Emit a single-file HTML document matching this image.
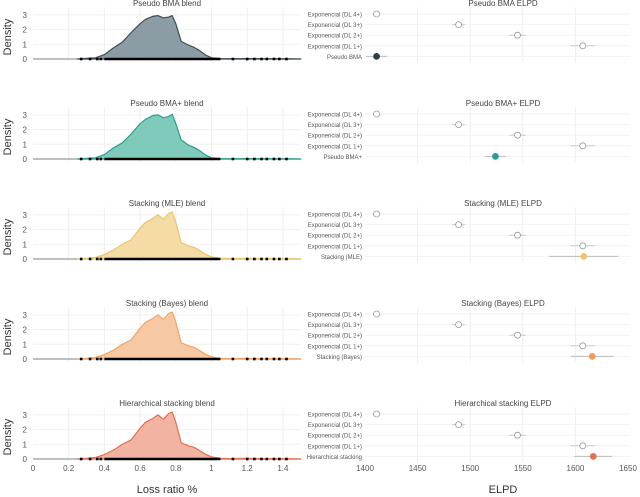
<!DOCTYPE html>
<html><head><meta charset="utf-8"><style>
html,body{margin:0;padding:0;background:#fff}
svg{display:block;font-family:"Liberation Sans","DejaVu Sans",sans-serif}
</style></head><body>
<svg id="chart" width="640" height="497" viewBox="0 0 640 497" xmlns="http://www.w3.org/2000/svg"></svg>
<script>
const panelTitles = ["Pseudo BMA", "Pseudo BMA+", "Stacking (MLE)", "Stacking (Bayes)", "Hierarchical stacking"];
const densityX = [0.25,0.3,0.35,0.4,0.45,0.5,0.55,0.6,0.63,0.67,0.7,0.73,0.76,0.78,0.8,0.83,0.87,0.9,0.93,0.97,1.0,1.05,1.1,1.2,1.3,1.4,1.5];
const densitySmooth = [0,0.04,0.08,0.3,0.75,1.15,1.8,2.4,2.7,2.9,2.95,2.8,2.85,2.95,2.4,1.2,0.95,0.8,0.6,0.25,0.08,0.03,0.02,0.03,0.02,0.02,0];
const densityBMAplus = [0,0.04,0.08,0.3,0.75,1.1,1.7,2.4,2.7,2.95,3.0,2.8,2.9,3.05,2.4,1.3,0.95,0.8,0.6,0.25,0.08,0.03,0.02,0.03,0.02,0.02,0];
const densityStack = [0,0.04,0.1,0.3,0.6,1.0,1.3,2.1,2.5,2.75,3.0,2.7,3.1,3.2,2.5,1.1,0.9,0.8,0.6,0.3,0.15,0.05,0.03,0.04,0.03,0.03,0];
const panelDensities = [densitySmooth, densityBMAplus, densityStack, densityStack, densityStack];
const rugOutliers = [0.27,0.32,0.36,0.38,1.12,1.2,1.24,1.28,1.31,1.35,1.38,1.42];
const rugDenseRange = [0.4,1.05];
const modelNames = ["Exponencial (DL 4+)","Exponencial (DL 3+)","Exponencial (DL 2+)","Exponencial (DL 1+)"];
const modelElpd = [1411,1489,1545,1607];
const modelErr = [4,6,8,12];
const blendElpd = [1411,1524,1608,1616,1617];
const blendErr = [10,10,33,20,18];
const xTicks = [0,0.2,0.4,0.6,0.8,1,1.2,1.4];
const xTickLabels = ["0","0.2","0.4","0.6","0.8","1","1.2","1.4"];
const elpdTicks = [1400,1450,1500,1550,1600,1650];
const yTicks = [0,1,2,3];

const fills = ["#8b9ca4","#80cabc","#f5dca6","#f6c9a4","#f2b3a2"];
const lines = ["#3d4f57","#2a9d8f","#e9c46a","#f4a261","#e76f51"];
const dots = ["#2f3d44","#2a9d8f","#f2c36b","#f09a5c","#e7704f"];

const svg = document.getElementById('chart');
const NS = "http://www.w3.org/2000/svg";
function mk(tag, attrs, parent){const e=document.createElementNS(NS,tag);for(const k in attrs)e.setAttribute(k,attrs[k]);(parent||svg).appendChild(e);return e;}
const xS = v => 33 + v*178.5;
const eS = v => 365 + (v-1400)*1.052;

panelTitles.forEach((title, i) => {
  const base = 59 + 100*i;
  const yS = v => base - v*14.7;
  const g = mk('g', {});
  
  
  xTicks.forEach(t => { if (t>0) mk('line',{x1:xS(t),x2:xS(t),y1:base-52,y2:base+3,stroke:'#eeeeee','stroke-width':1},g); });
  yTicks.forEach(t => { mk('line',{x1:33,x2:301,y1:yS(t),y2:yS(t),stroke:'#f0f0f0','stroke-width':1},g);
    const tl = mk('text',{x:27,y:yS(t)+3,'font-size':8,fill:'#555','text-anchor':'end'},g); tl.textContent=t;
      });
  const yl = mk('text',{x:0,y:0,'font-size':11,fill:'#333','text-anchor':'middle',transform:`translate(11,${base-22}) rotate(-90)`},g);
  yl.textContent='Density';
   
  const tt = mk('text',{x:167,y:base-53,'font-size':8,fill:'#444','text-anchor':'middle'},g);
  tt.textContent = title + ' blend';
   
  mk('line',{x1:33,x2:301,y1:base,y2:base,stroke:'#999','stroke-width':1.2},g);
  const d = panelDensities[i];
  let p = `M${xS(densityX[0])},${base} `;
  densityX.forEach((x,k)=>{ p += `L${xS(x).toFixed(1)},${yS(d[k]).toFixed(1)} `; });
  p += `L${xS(densityX[densityX.length-1])},${base}Z`;
  const area = mk('path',{d:p,fill:fills[i],stroke:lines[i],'stroke-width':1.2,'stroke-linejoin':'round'},g);
   
  const rug = mk('line',{x1:xS(rugDenseRange[0]),x2:xS(rugDenseRange[1]),y1:base,y2:base,stroke:'#000','stroke-width':2.5},g);
   
  rugOutliers.forEach(v=>{ const r=mk('rect',{x:xS(v)-1.3,y:base-1.3,width:2.6,height:2.6,fill:'#000'},g);
      });
  const rowY = k => base - 45 + k*10.6;
  elpdTicks.forEach(t=>{ if(t>1400 && t<1650) mk('line',{x1:eS(t),x2:eS(t),y1:base-52,y2:base+4,stroke:'#eeeeee'},g); });
  const et = mk('text',{x:503,y:base-53,'font-size':8,fill:'#444','text-anchor':'middle'},g);
  et.textContent = title + ' ELPD';
   
  const names = modelNames.concat([title]);
  const vals = modelElpd.concat([blendElpd[i]]);
  const errs = modelErr.concat([blendErr[i]]);
  names.forEach((n,k)=>{
    const y = rowY(k);
    mk('line',{x1:365,x2:630,y1:y,y2:y,stroke:'#f2f2f2'},g);
    const lt = mk('text',{x:362,y:y+2.5,'font-size':6,fill:'#555','text-anchor':'end'},g);
    lt.textContent = n;
     
    const last = k===4;
    mk('line',{x1:eS(vals[k]-errs[k]),x2:eS(vals[k]+errs[k]),y1:y,y2:y,stroke:last?'#bbb':'#ccc','stroke-width':1},g);
    const c = mk('circle',{cx:eS(vals[k]),cy:y,r:3,fill:last?dots[i]:'#fff',stroke:last?dots[i]:'#999','stroke-width':0.8},g);
    
    
  });
  if (i===4) {
    xTicks.forEach((t,k)=>{ const x=mk('text',{x:xS(t),y:471,'font-size':8,fill:'#555','text-anchor':'middle'},g); x.textContent=xTickLabels[k];
        });
    elpdTicks.forEach(t=>{ const x=mk('text',{x:eS(t),y:471,'font-size':8,fill:'#555','text-anchor':'middle'},g); x.textContent=t;
        });
  }
});
const xt = mk('text',{x:167,y:493,'font-size':11,fill:'#333','text-anchor':'middle'});
xt.textContent='Loss ratio %';
 
const et2 = mk('text',{x:503,y:493,'font-size':11,fill:'#333','text-anchor':'middle'});
et2.textContent='ELPD';
 
</script>
</body></html>
